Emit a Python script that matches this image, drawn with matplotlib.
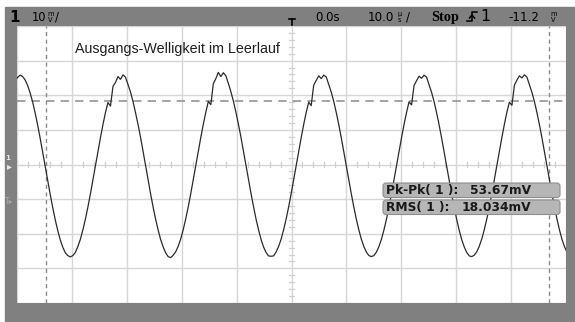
import numpy as np
import matplotlib.pyplot as plt
from matplotlib.patches import Rectangle, FancyBboxPatch

# scope settings (mV, us)
volts_per_div = 10
time_per_div = 10
t_start = -50.34      # time of first sample
dt = 0.457            # sample interval
cursor_t = [-44.7, 46.9]
cursor_v = 18.4
title = 'Ausgangs-Welligkeit im Leerlauf'
meas_labels = ['Pk-Pk( 1 ):', 'RMS( 1 ):']
meas_values = ['53.67mV', '18.034mV']

# channel 1 trace
trace_mv = [
    24.1, 25.2,
    25.8, 25.4, 24.4, 22.8, 20.6, 18.0, 14.8, 11.3, 7.5, 3.5,
    -0.6, -4.7, -8.7, -12.5, -16.0, -19.1, -21.8, -23.9, -25.5, -26.3,
    -26.7, -26.3, -25.4, -23.7, -21.6, -18.9, -15.8, -12.3, -8.5, -4.5,
    -0.4, 3.7, 7.7, 11.5, 15.0, 17.9, 16.9, 22.6, 23.7, 25.4,
    24.6, 25.9, 25.2, 23.0, 20.9, 18.1, 14.9, 11.5, 7.8, 3.8,
    -0.3, -4.4, -8.5, -12.3, -15.8, -18.9, -21.7, -23.8, -25.5, -26.6,
    -26.9, -26.2, -25.2, -23.6, -21.5, -18.8, -15.7, -12.2, -8.4, -4.4,
    -0.3, 3.8, 7.8, 11.6, 15.1, 18.2, 17.3, 23.4, 24.8, 26.6,
    25.4, 26.5, 25.6, 23.4, 21.0, 18.3, 15.1, 11.6, 7.9, 3.9,
    -0.2, -4.3, -8.3, -12.1, -15.7, -18.8, -21.6, -23.8, -25.4, -26.4,
    -26.5, -26.4, -25.3, -23.7, -21.6, -18.9, -15.8, -12.3, -8.5, -4.5,
    -0.4, 3.7, 7.7, 11.5, 15.0, 18.0, 17.0, 22.9, 24.3, 25.6,
    24.8, 25.8, 25.3, 23.1, 20.9, 18.2, 15.0, 11.5, 7.7, 3.7,
    -0.4, -4.5, -8.5, -12.3, -15.8, -18.9, -21.6, -23.7, -25.3, -26.3,
    -26.6, -26.3, -25.3, -23.7, -21.6, -18.9, -15.8, -12.3, -8.5, -4.5,
    -0.4, 3.7, 7.7, 11.5, 15.0, 18.1, 17.2, 22.8, 24.2, 25.5,
    24.9, 25.8, 25.2, 23.0, 20.8, 18.1, 14.9, 11.4, 7.6, 3.6,
    -0.5, -4.6, -8.6, -12.4, -15.9, -19.0, -21.7, -23.8, -25.4, -26.4,
    -26.6, -26.2, -25.2, -23.6, -21.5, -18.8, -15.7, -12.2, -8.4, -4.4,
    -0.3, 3.8, 7.8, 11.6, 15.1, 18.0, 17.1, 22.9, 24.4, 25.6,
    25.0, 25.9, 25.2, 23.0, 20.8, 18.1, 14.9, 11.4, 7.6, 3.6,
    -0.5, -4.6, -8.6, -12.4, -15.9, -19.0, -21.7, -23.8, -25.4,
]
t_us = t_start + dt * np.arange(len(trace_mv))

W, H = 575, 322
fig = plt.figure(figsize=(W / 100, H / 100), dpi=100)

# gray instrument frame, pixel coords
bg = fig.add_axes([0, 0, 1, 1], zorder=0)
bg.set_xlim(0, W); bg.set_ylim(H, 0); bg.axis('off')
bg.add_patch(Rectangle((5, 7), W - 5, H - 7, color='#808080'))

# screen
ax = fig.add_axes([17 / W, 19 / H, 549 / W, 277 / H], zorder=1)
ax.set_xlim(-5 * time_per_div, 5 * time_per_div)
ax.set_ylim(-4 * volts_per_div, 4 * volts_per_div)
ax.set_facecolor('white')
for s in ax.spines.values():
    s.set_visible(False)
ax.set_xticks(np.arange(-50, 51, 10))
ax.set_yticks(np.arange(-40, 41, 10))
ax.tick_params(length=0, labelbottom=False, labelleft=False)
ax.grid(True, color='#d6d6d6', lw=1)
ax.set_axisbelow(True)

# small ticks on the centre lines
for x in np.arange(-50, 51, 2):
    if x % 10:
        ax.plot([x, x], [-0.75, 0.75], color='#cfcfcf', lw=0.9, zorder=1)
for y in np.arange(-40, 41, 2):
    if y % 10:
        ax.plot([-0.45, 0.45], [y, y], color='#cfcfcf', lw=0.9, zorder=1)

ax.plot(t_us, trace_mv, color='#2b2b2b', lw=0.9, zorder=3)

for x in cursor_t:
    ax.axvline(x, color='#8c8c8c', lw=1, dashes=(3, 2.5), zorder=2)
ax.axhline(cursor_v, color='#8c8c8c', lw=1.1, dashes=(5.5, 4), zorder=2)

# overlay texts, pixel coords
ov = fig.add_axes([0, 0, 1, 1], zorder=3)
ov.set_xlim(0, W); ov.set_ylim(H, 0); ov.axis('off')
ov.patch.set_alpha(0)

ov.text(75, 49, title, fontsize=10.3, family='Liberation Sans', color='#1e1e1e', va='center')

top = dict(va='center', color='black', family='DejaVu Sans')
ov.text(9, 17, '1', fontsize=11, weight='bold', **top)
ov.text(32, 17, '10', fontsize=8.3, **top)
ov.text(47.5, 13.5, 'm', fontsize=4.8, **top)
ov.text(48, 20, 'V', fontsize=4.8, **top)
ov.text(55, 17, '/', fontsize=8.5, **top)

# trigger position marker
ov.plot([289, 295], [19, 19], color='black', lw=1.2)
ov.plot([292, 292], [19, 25], color='black', lw=1.2)

ov.text(315, 17, '0.0s', fontsize=8.5, **top)
ov.text(368, 17, '10.0', fontsize=8.6, **top)
ov.text(398, 13.5, 'µ', fontsize=4.8, **top)
ov.text(398, 20, 's', fontsize=4.8, **top)
ov.text(406, 17, '/', fontsize=8.5, **top)
ov.text(431, 17, 'Stop', fontsize=10.3, weight='bold', va='center', color='black',
        family='Liberation Serif')
# rising edge symbol
ov.plot([467, 472, 472, 477], [21, 21, 12, 12], color='black', lw=1.1)
ov.plot([469.5, 472, 474.5], [18, 15, 18], color='black', lw=1.1)
ov.text(480, 16.5, '1', fontsize=11.5, **top)
ov.text(508, 17, '-11.2', fontsize=8.6, **top)
ov.text(550.5, 13.5, 'm', fontsize=4.8, **top)
ov.text(551, 20, 'V', fontsize=4.8, **top)

# ground and trigger markers on the left frame
ov.text(8, 158, '1', fontsize=5, color='#e8e8e8', ha='center', va='center', weight='bold')
ov.text(9, 166, '▸', fontsize=7, color='#e8e8e8', ha='center', va='center')
ov.text(9, 201, 'T▸', fontsize=5.5, color='#a8a8a8', ha='center', va='center')

# measurement boxes
for i, (lab, val) in enumerate(zip(meas_labels, meas_values)):
    y0 = 183 + i * 17
    ov.add_patch(FancyBboxPatch((383, y0), 177, 14.5,
                                boxstyle='round,pad=0,rounding_size=3',
                                fc='#b6b6b6', ec='#8e8e8e', lw=0.8))
    ov.text(386, y0 + 7.5, lab, fontsize=8.8, weight='bold', color='#1a1a1a',
            va='center', family='DejaVu Sans')
    ov.text(470 - 8 * i, y0 + 7.5, val, fontsize=8.8, weight='bold', color='#1a1a1a',
            va='center', family='DejaVu Sans')

fig.savefig('out.png', dpi=100)
